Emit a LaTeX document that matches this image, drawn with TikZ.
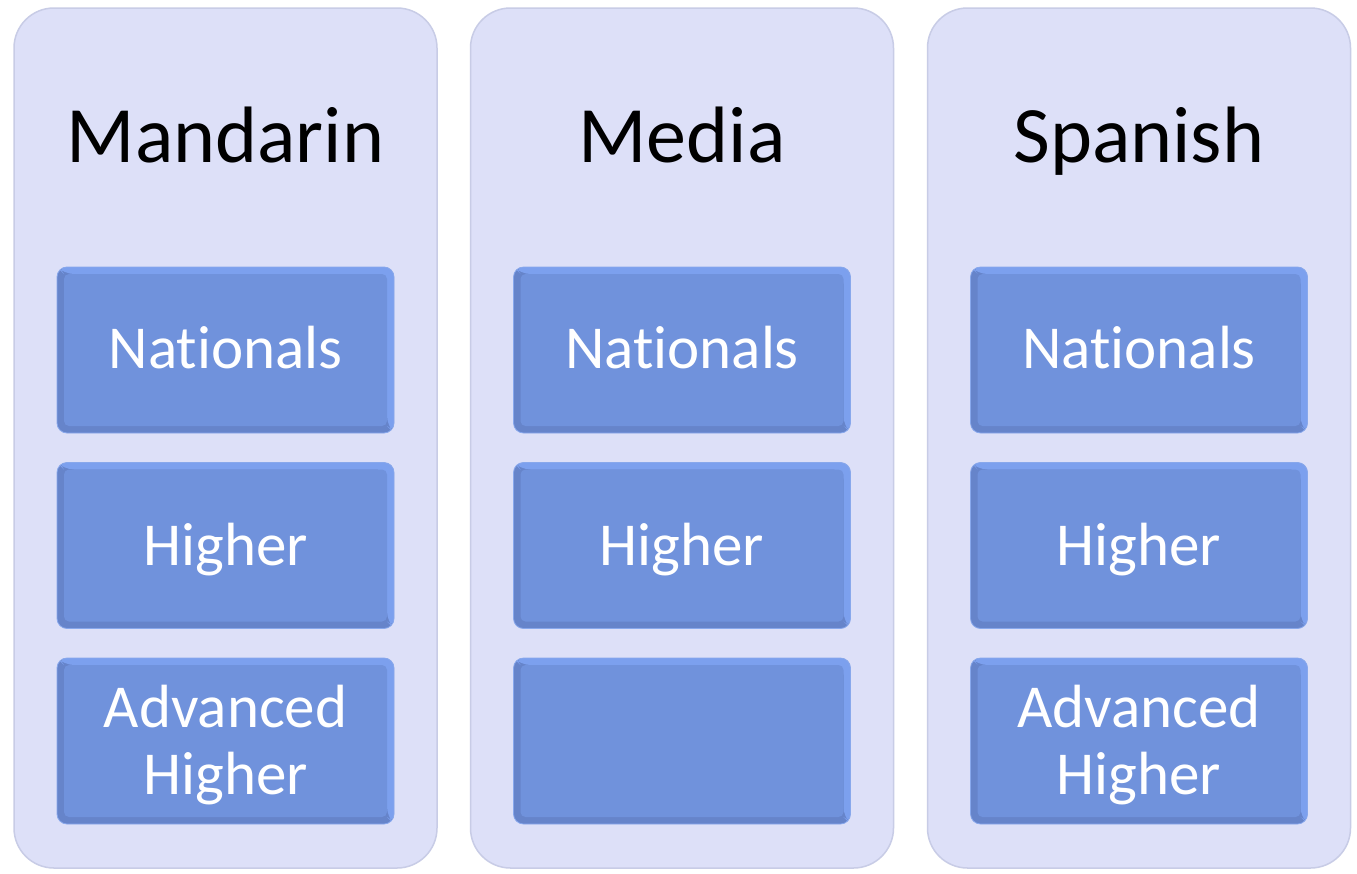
\documentclass[tikz,border=0pt]{standalone}
\usepackage{fontspec}
\setmainfont[Ligatures={NoCommon}]{Carlito}
\definecolor{panelFill}{RGB}{221,224,248}
\definecolor{panelLine}{RGB}{200,204,230}
\definecolor{boxMain}{RGB}{112,146,220}
\definecolor{boxLight}{RGB}{124,160,238}
\definecolor{boxDark}{RGB}{102,132,202}
\definecolor{boxEdge}{RGB}{136,168,236}
\tikzset{
  panel/.style={minimum width=423pt, minimum height=860pt, inner sep=0pt, rounded corners=40pt, fill=panelFill, draw=panelLine, line width=1.5pt},
  lvlbox/.style={minimum width=337pt, minimum height=166pt, inner sep=0pt, rounded corners=10pt, fill=boxDark, draw=boxEdge, line width=0.8pt,
    path picture={
      \fill[boxLight] (path picture bounding box.north west) -- (path picture bounding box.north east) -- (path picture bounding box.south east)
        -- ([shift={(-7pt,7pt)}]path picture bounding box.south east) -- ([shift={(-7pt,-7pt)}]path picture bounding box.north east)
        -- ([shift={(7pt,-7pt)}]path picture bounding box.north west) -- cycle;
      \fill[boxMain, rounded corners=5pt] ([shift={(7pt,-7pt)}]path picture bounding box.north west) rectangle ([shift={(-7pt,7pt)}]path picture bounding box.south east);
    }},
  titletext/.style={anchor=base, inner sep=0pt, font=\fontsize{80}{96}\selectfont, text=black},
  boxtext/.style={anchor=base, inner sep=0pt, font=\fontsize{61}{67}\selectfont, text=white}
}
\begin{document}
\begin{tikzpicture}[x=1pt, y=-1pt]
\useasboundingbox (0,0) rectangle (1357,873);
\fill[white] (0,0) rectangle (1357,873);
% panels
\node[panel] (p1) at (225.5,438) {};
\node[panel] (p2) at (682,438) {};
\node[panel] (p3) at (1139,438) {};
% titles
\node[titletext] (t1) at (225.5,162) {Mandarin};
\node[titletext] (t2) at (682,162) {Media};
\node[titletext] (t3) at (1139,162) {Spanish};
% boxes
\foreach \c/\n in {225.5/a, 682/b, 1139/c}{
  \node[lvlbox] (\n1) at (\c,350) {};
  \node[lvlbox] (\n2) at (\c,545.5) {};
  \node[lvlbox] (\n3) at (\c,741) {};
}
% box texts
\node[boxtext] (a1t) at (225.5,368) {Nationals};
\node[boxtext] (a2t) at (225.5,565) {Higher};
\node[boxtext] (a3t) at (225.5,727) {Advanced};
\node[boxtext] (a3u) at (225.5,794) {Higher};
\node[boxtext] (b1t) at (682,368) {Nationals};
\node[boxtext] (b2t) at (682,565) {Higher};
\node[boxtext] (c1t) at (1139,368) {Nationals};
\node[boxtext] (c2t) at (1139,565) {Higher};
\node[boxtext] (c3t) at (1139,727) {Advanced};
\node[boxtext] (c3u) at (1139,794) {Higher};
\end{tikzpicture}
\end{document}
